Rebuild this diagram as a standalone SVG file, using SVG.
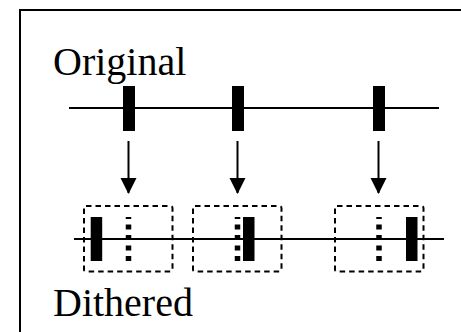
<svg xmlns="http://www.w3.org/2000/svg" width="461" height="332" viewBox="0 0 461 332">
<style>
.lbl{font-family:"Liberation Serif","Times New Roman",serif;font-size:40px;fill:#000}
.axis{stroke:#000;stroke-width:2.2;fill:none}
.bar{fill:#000}
.box{fill:none;stroke:#000;stroke-width:2;stroke-dasharray:5.5 4}
.ghost{stroke:#000;stroke-width:5.5;stroke-dasharray:5 5.5;stroke-dashoffset:3;fill:none}
.arrow{stroke:#000;stroke-width:2;fill:none}
</style>
<defs>
<marker id="ah" markerUnits="userSpaceOnUse" markerWidth="16" markerHeight="18" refX="15" refY="8" orient="auto">
<path d="M0,0 L16,8 L0,16 Z" fill="#000"/>
</marker>
</defs>
<rect width="461" height="332" fill="#fff"/>
<path id="frame" d="M20,345 V10 H475" fill="none" stroke="#000" stroke-width="2"/>
<g id="original">
<text class="lbl" x="53" y="75">Original</text>
<line class="axis" x1="69" y1="108" x2="439" y2="108"/>
<rect class="bar" x="123" y="86" width="12" height="45"/>
<rect class="bar" x="232" y="86" width="12" height="45"/>
<rect class="bar" x="373" y="86" width="12" height="45"/>
</g>
<g id="connectors">
<line class="arrow" x1="128.5" y1="141" x2="128.5" y2="193" marker-end="url(#ah)"/>
<line class="arrow" x1="237.5" y1="141" x2="237.5" y2="193" marker-end="url(#ah)"/>
<line class="arrow" x1="378.5" y1="141" x2="378.5" y2="193" marker-end="url(#ah)"/>
</g>
<g id="dithered">
<line class="axis" x1="74" y1="239" x2="444" y2="239"/>
<g id="cell1">
<rect class="box" x="84" y="206" width="88.5" height="65.5" rx="2"/>
<line class="ghost" x1="128.5" y1="217" x2="128.5" y2="261"/>
<rect class="bar" x="90.7" y="217" width="11.5" height="44"/>
</g>
<g id="cell2">
<rect class="box" x="193" y="206" width="88.5" height="65.5" rx="2"/>
<line class="ghost" x1="237.5" y1="217" x2="237.5" y2="261"/>
<rect class="bar" x="243" y="217" width="11.5" height="44"/>
</g>
<g id="cell3">
<rect class="box" x="335" y="206" width="88.5" height="65.5" rx="2"/>
<line class="ghost" x1="379" y1="217" x2="379" y2="261"/>
<rect class="bar" x="406" y="217" width="11.5" height="44"/>
</g>
<text class="lbl" x="53" y="316">Dithered</text>
</g>
</svg>
